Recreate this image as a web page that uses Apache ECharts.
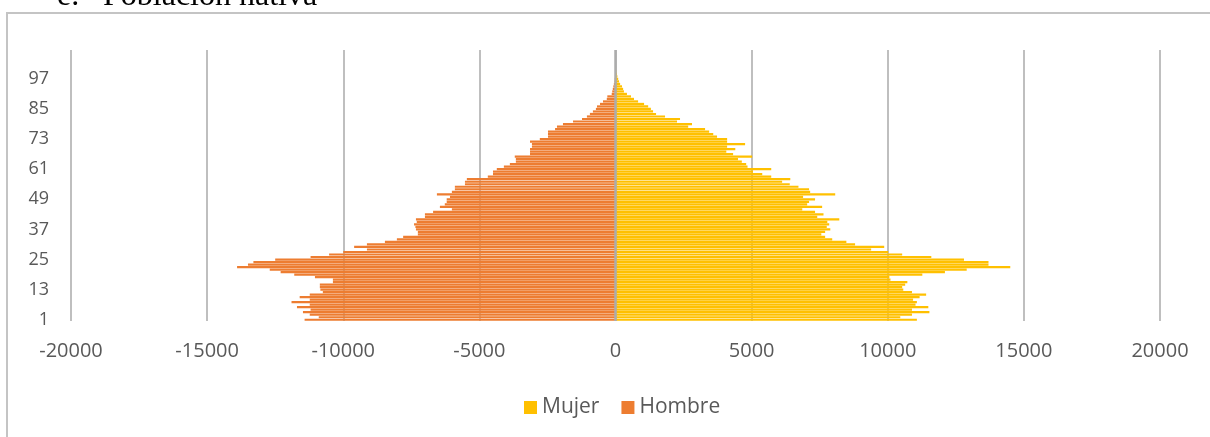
<!DOCTYPE html>
<html lang="es">
<head>
    <meta charset="UTF-8">
    <title>Población nativa</title>
    <script src="https://cdn.jsdelivr.net/npm/echarts@6/dist/echarts.min.js"></script>
    <style>
        html, body { margin: 0; padding: 0; background: #ffffff; }
    </style>
</head>
<body>
<div class="container" style="width: 1210px;height:437px;"></div>
<script>
    // edades 1..108 (eje de categorías)
    let edades = Array.from({length: 108}, (v, i) => String(i + 1));

    let mujer = [
        11070, 10460, 10890, 11530, 10890, 11490, 11020, 11070, 10930, 11170,
        11410, 10890, 10570, 10530, 10640, 10720, 10100, 10060, 11270, 12100,
        12900, 14500, 13700, 13700, 12800, 11600, 10530, 10020, 9390, 9870,
        8800, 8480, 7960, 7700, 7560, 7700, 7890, 7760, 7850, 7780,
        8220, 7410, 7640, 7330, 6860, 7590, 7040, 7110, 7330, 6890,
        8070, 7150, 7110, 6720, 6400, 6120, 6420, 5720, 5390, 5050,
        5720, 4850, 4800, 4640, 4500, 5020, 4320, 4070, 4400, 4100,
        4760, 4100, 4100, 3730, 3590, 3440, 3290, 2670, 2810, 2260,
        2370, 1820, 1490, 1380, 1300, 1200, 1050, 830, 680, 570,
        420, 310, 280, 240, 170, 130, 100, 70, 50, 30,
        20, 10, 5, 0, 0, 0, 0, 0
    ];

    let hombre = [
        11420, 10900, 11230, 11480, 11200, 11700, 11230, 11900, 11230, 11600,
        11230, 10750, 10840, 10860, 10860, 10380, 10380, 11040, 11800, 12300,
        12700, 13900, 13500, 13300, 12500, 11200, 10520, 10000, 9130, 9600,
        9130, 8470, 8030, 7800, 7260, 7260, 7330, 7350, 7400, 7300,
        7330, 7000, 7000, 6700, 6010, 6450, 6270, 6200, 6200, 6080,
        6560, 6010, 5900, 5900, 5530, 5530, 5460, 4690, 4500, 4500,
        4360, 4100, 3880, 3660, 3660, 3700, 3140, 3140, 3140, 3070,
        3070, 3140, 2780, 2480, 2480, 2480, 2220, 2150, 1930, 1560,
        1230, 1050, 940, 830, 720, 680, 570, 460, 320, 300,
        140, 120, 100, 80, 60, 40, 30, 20, 10, 5,
        0, 0, 0, 0, 0, 0, 0, 0
    ];

    let xTicks = {min: -20000, max: 20000, step: 5000};

    let container = document.querySelector('.container');
    let mychart = echarts.init(container);

    let option = {
        backgroundColor: '#ffffff',
        animation: false,
        graphic: [
            {
                type: 'rect',
                shape: {x: 7, y: 13, width: 1400, height: 600},
                style: {fill: 'none', stroke: '#c4c4c4', lineWidth: 2}
            },
            {
                type: 'text', left: 57, top: -19,
                style: {text: 'e.', font: '32px "Liberation Serif"', fill: '#000'}
            },
            {
                type: 'text', left: 103, top: -19,
                style: {text: 'Población nativa', font: '32px "Liberation Serif"', fill: '#000'}
            }
        ],
        grid: {left: 71, right: 50, top: 50, bottom: 116},
        legend: {
            data: ['Mujer', 'Hombre'],
            top: 392,
            left: 519,
            itemWidth: 13,
            itemHeight: 13,
            itemGap: 22,
            icon: 'rect',
            textStyle: {fontFamily: 'Open Sans', fontSize: 21, color: '#595959'}
        },
        xAxis: {
            type: 'value',
            min: xTicks.min,
            max: xTicks.max,
            interval: xTicks.step,
            axisLine: {show: false},
            axisTick: {show: false},
            axisLabel: {
                fontFamily: 'Open Sans', fontSize: 20, color: '#595959', margin: 20,
                formatter: v => String(v)
            },
            splitLine: {lineStyle: {color: '#bfbfbf', width: 2}}
        },
        yAxis: {
            type: 'category',
            data: edades,
            axisLine: {show: false, onZero: false},
            axisTick: {show: false},
            axisLabel: {interval: 11, fontFamily: 'Open Sans', fontSize: 18, color: '#595959', margin: 22}
        },
        series: [
            {
                name: 'Mujer',
                type: 'bar',
                stack: 'pir',
                barCategoryGap: '12%',
                data: mujer,
                itemStyle: {color: '#ffc000'},
                markLine: {
                    silent: true,
                    symbol: 'none',
                    label: {show: false},
                    lineStyle: {color: '#acacac', width: 2.5, type: 'solid'},
                    data: [{xAxis: 0}]
                }
            },
            {
                name: 'Hombre',
                type: 'bar',
                stack: 'pir',
                barCategoryGap: '12%',
                data: hombre.map(v => -v),
                itemStyle: {color: '#ed7d31'}
            }
        ]
    };

    mychart.setOption(option);
</script>
</body>
</html>
